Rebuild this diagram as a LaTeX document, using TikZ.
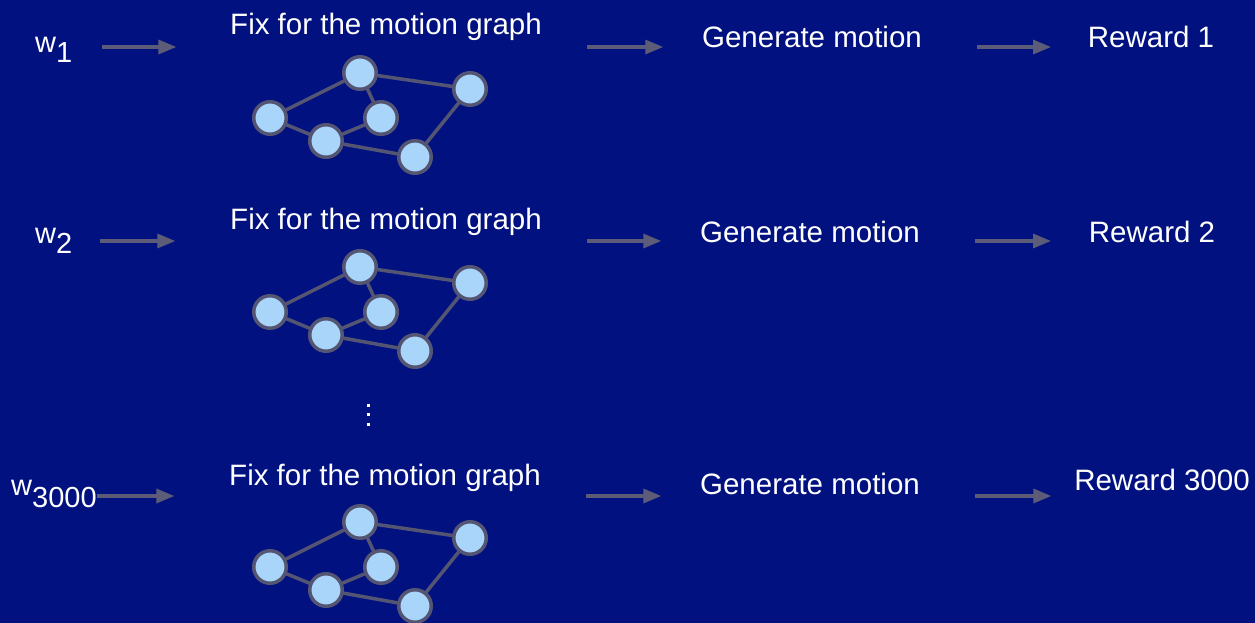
\documentclass[tikz,border=0pt]{standalone}
\usepackage{fontspec}
\setmainfont{Liberation Sans}
\usetikzlibrary{arrows}

\definecolor{slide}{RGB}{1,18,128}
\definecolor{nodefill}{RGB}{169,213,251}
\definecolor{edgegray}{RGB}{84,85,114}
\definecolor{arrowgray}{RGB}{92,92,120}

\begin{document}
\begin{tikzpicture}[line cap=round,line join=round,>=triangle 45,x=1pt,y=-1pt,
    txt/.style={text=white,inner sep=0pt,anchor=base,font=\fontsize{29.5}{35}\selectfont},
    wtext/.style={text=white,inner sep=0pt,anchor=base west,font=\fontsize{29}{34}\selectfont},
    gnode/.style={circle,draw=edgegray,fill=nodefill,line width=3.5pt,minimum size=32.5pt,inner sep=0pt},
    gedge/.style={draw=edgegray,line width=3.5pt},
    flow/.style={->,draw=arrowgray,line width=3.2pt,line cap=butt}]
      \useasboundingbox (0,0) rectangle (1255,623);
      \fill[slide] (0,0) rectangle (1255,623);
      % heights of the arrows in each row
      \coordinate (row1) at (0,47);
      \coordinate (row2) at (0,241);
      \coordinate (row3) at (0,496);
      % first row
      \node[wtext] (w1) at (35,53) {w\raisebox{-10pt}{1}};
      \node[txt] (fix1) at (386,35) {Fix for the motion graph};
      \node[txt] (gen1) at (812,48) {Generate motion};
      \node[txt] (rew1) at (1151,48) {Reward 1};
      % second row
      \node[wtext] (w2) at (35,243) {w\raisebox{-10pt}{2}};
      \node[txt] (fix2) at (386,229) {Fix for the motion graph};
      \node[txt] (gen2) at (810,242) {Generate motion};
      \node[txt] (rew2) at (1152,242) {Reward 2};
      % last row
      \node[wtext] (w3) at (11,495) {w\raisebox{-12pt}{3000}};
      \node[txt] (fix3) at (385,485) {Fix for the motion graph};
      \node[txt] (gen3) at (810,494) {Generate motion};
      \node[txt] (rew3) at (1162,490) {Reward 3000};
      % arrows
      \draw[flow,shorten <=30pt,shorten >=54pt] (w1.east |- row1) -- (fix1.west |- row1);
      \draw[flow,shorten <=45pt,shorten >=39pt] (fix1.east |- row1) -- (gen1.west |- row1);
      \draw[flow,shorten <=55pt,shorten >=37pt] (gen1.east |- row1) -- (rew1.west |- row1);
      \draw[flow,shorten <=28pt,shorten >=55pt] (w2.east |- row2) -- (fix2.west |- row2);
      \draw[flow,shorten <=45pt,shorten >=39pt] (fix2.east |- row2) -- (gen2.west |- row2);
      \draw[flow,shorten <=55pt,shorten >=38pt] (gen2.east |- row2) -- (rew2.west |- row2);
      \draw[flow,shorten <=0pt,shorten >=55pt] (w3.east |- row3) -- (fix3.west |- row3);
      \draw[flow,shorten <=45pt,shorten >=39pt] (fix3.east |- row3) -- (gen3.west |- row3);
      \draw[flow,shorten <=55pt,shorten >=23pt] (gen3.east |- row3) -- (rew3.west |- row3);
      % the motion graphs
      \foreach \r/\gy in {1/118,2/312,3/567}{
        \begin{scope}[shift={(270,\gy)}]
          \node[gnode] (c\r) at (0,0) {};
          \node[gnode] (a\r) at (90,-45) {};
          \node[gnode] (b\r) at (200,-29) {};
          \node[gnode] (d\r) at (111,0) {};
          \node[gnode] (e\r) at (56,23) {};
          \node[gnode] (f\r) at (145,39) {};
        \end{scope}
        \draw[gedge] (c\r) -- (a\r) -- (b\r) (a\r) -- (d\r) -- (e\r) -- (c\r) (e\r) -- (f\r) -- (b\r);
      }
      % vertical dots between the rows
      \foreach \d in {405,414.5,424}
        \fill[white] (366.5,\d-1.5) rectangle ++(3,3);
\end{tikzpicture}
\end{document}
